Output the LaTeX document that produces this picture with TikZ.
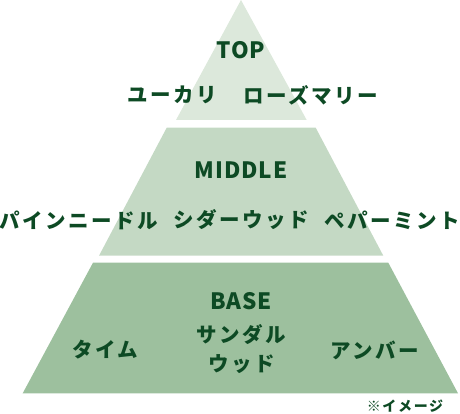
\documentclass[tikz,border=0pt]{standalone}
\usepackage{color}
\usepackage{fontspec}
\setmainfont{Noto Sans CJK JP}[LetterSpace=12]
\newfontfamily\headfont{Noto Sans CJK JP}[LetterSpace=4]
\usepackage{tikz}

\definecolor{tiertop}{HTML}{DCE8DB}
\definecolor{tiermid}{HTML}{C4D9C4}
\definecolor{tierbase}{HTML}{9DC09E}
\definecolor{notegreen}{HTML}{0D4A24}

\begin{document}
\begin{tikzpicture}[x=1pt,y=-1pt]
		\tikzstyle{tier}=[draw=none]
		\tikzstyle{head}=[text=notegreen, font=\headfont\fontsize{22.5}{26}\selectfont\bfseries, inner sep=0pt]
		\tikzstyle{note}=[text=notegreen, font=\fontsize{20.5}{29}\selectfont\bfseries, inner sep=0pt, align=center]
		\tikzstyle{remark}=[text=notegreen, font=\fontsize{14}{17}\selectfont\bfseries, inner sep=0pt]

		\useasboundingbox (0,0) rectangle (460,414);

		% tiers
		\fill [tier, tiertop]  (241,0) -- (306.7,120) -- (176,120) -- cycle;
		\fill [tier, tiermid]  (166.7,127.7) -- (315.7,127.7) -- (383.3,255.7) -- (99,255.7) -- cycle;
		\fill [tier, tierbase] (93,262.7) -- (388.3,262.7) -- (458,393.3) -- (22.7,393.3) -- cycle;

		% top notes
		\node [head] (top) at (241,50) {TOP};
		\node [note] (eucalyptus) at (172,95) {ユーカリ};
		\node [note] (rosemary) at (311,95) {ローズマリー};

		% middle notes
		\node [head] (middle) at (241,170.5) {MIDDLE};
		\node [note] (pine) at (78.4,220) {パインニードル};
		\node [note] (cedar) at (241,220) {シダーウッド};
		\node [note] (pepper) at (392.5,220) {ペパーミント};

		% base notes
		\node [head] (base) at (241,301.5) {BASE};
		\node [note] (thyme) at (105.5,350) {タイム};
		\node [note] (sandal) at (241.5,349) {サンダル\\ウッド};
		\node [note] (amber) at (375,350) {アンバー};

		\node [remark] (image) at (405,406) {※イメージ};
	\end{tikzpicture}
\end{document}
